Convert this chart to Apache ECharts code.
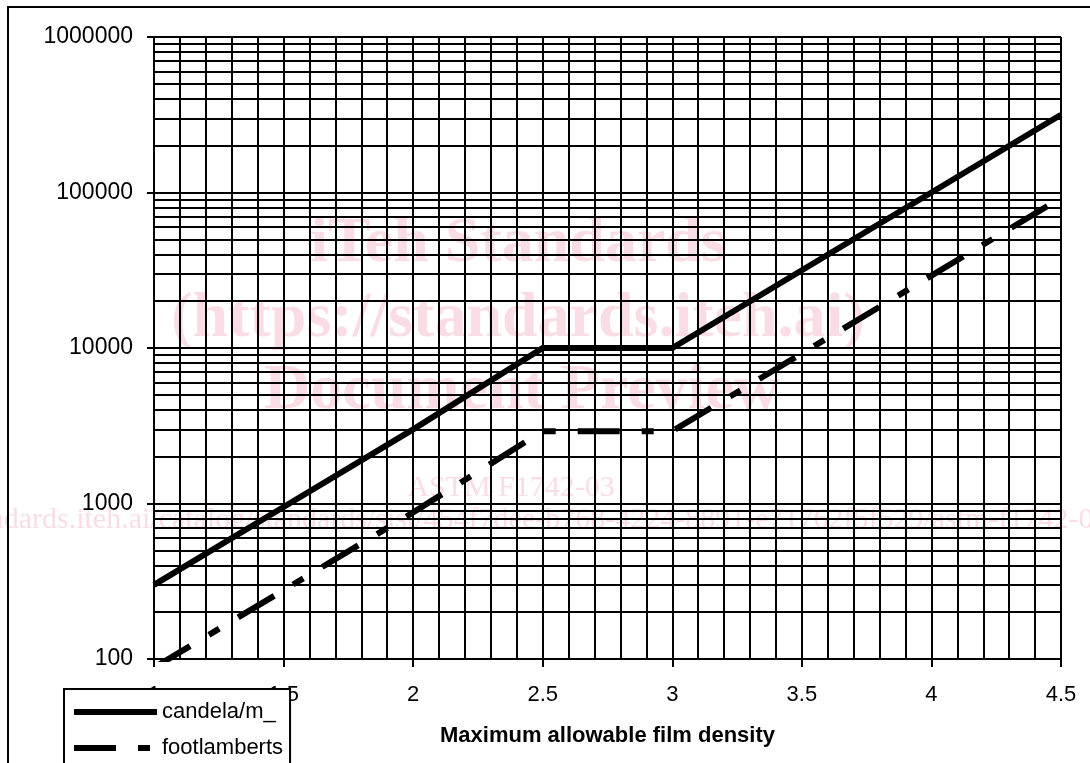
<!DOCTYPE html>
<html><head><meta charset="utf-8">
<script src="https://cdn.jsdelivr.net/npm/echarts@6/dist/echarts.min.js"></script>
<style>html,body{margin:0;padding:0;background:#fff}#c{width:1090px;height:763px}</style>
</head><body><div id="c"></div>
<script>
// ---- data ----
const density = [1, 1.5, 2, 2.5, 3, 3.5, 4, 4.5];
const candela = [300, 950, 3000, 10000, 10000, 31600, 100000, 316000];
const footlamberts = [88, 277, 876, 2920, 2920, 9220, 29200, 92200];
const seriesNames = ['candela/m_', 'footlamberts'];
const xAxisName = 'Maximum allowable film density';
const yDecades = [100, 1000, 10000, 100000];
const yMinorSteps = [2, 3, 4, 5, 6, 7, 8, 9];
const watermark = ['iTeh Standards', '(https://standards.iteh.ai)', 'Document Preview'];
const watermarkCode = 'ASTM F1742-03';
const watermarkUrl = 'https://standards.iteh.ai/catalog/standards/sist/454f7dee-b768-4224-8891-e71762f5f529/astm-f1742-03';

const FONT = 'Liberation Sans, Arial, sans-serif';
const SERIF = 'Liberation Serif, Times New Roman, serif';
const PINK = 'rgba(225,60,110,0.18)';

const minorLines = [];
yDecades.forEach(d => yMinorSteps.forEach(m => minorLines.push({ yAxis: d * m })));

const chart = echarts.init(document.getElementById('c'), null, { renderer: 'canvas' });
chart.setOption({
  backgroundColor: '#fff',
  animation: false,
  textStyle: { fontFamily: FONT },
  grid: { left: 154, right: 29, top: 37, bottom: 104, containLabel: false },
  graphic: [
    { type: 'rect', z: 100, silent: true, shape: { x: 8, y: 7, width: 1200, height: 900 },
      style: { fill: 'none', stroke: '#000', lineWidth: 2 } },
    { type: 'text', z: -1, x: 518, y: 244, style: { text: watermark[0], font: 'bold 64px ' + SERIF, fill: PINK, align: 'center', verticalAlign: 'middle' } },
    { type: 'text', z: -1, x: 518, y: 319, style: { text: watermark[1], font: 'bold 64px ' + SERIF, fill: PINK, align: 'center', verticalAlign: 'middle' } },
    { type: 'text', z: -1, x: 522, y: 391, style: { text: watermark[2], font: 'bold 64px ' + SERIF, fill: PINK, align: 'center', verticalAlign: 'middle' } },
    { type: 'text', z: -1, x: 511, y: 488, style: { text: watermarkCode, font: '30px ' + SERIF, fill: PINK, align: 'center', verticalAlign: 'middle' } },
    { type: 'text', z: -1, x: -128, y: 520, style: { text: watermarkUrl, font: '30px ' + SERIF, fill: PINK, align: 'left', verticalAlign: 'middle' } }
  ],
  legend: {
    show: true,
    orient: 'vertical',
    left: 64, top: 689, height: 140,
    padding: [12, 7, 24, 7],
    itemWidth: 83, itemHeight: 14, itemGap: 14,
    backgroundColor: '#fff',
    borderColor: '#000', borderWidth: 2, borderRadius: 0,
    z: 10,
    itemStyle: { color: 'rgba(0,0,0,0)', borderWidth: 0, opacity: 0 },
    lineStyle: { width: 6, color: '#000' },
    textStyle: { fontFamily: FONT, fontSize: 22, color: '#000' },
    data: seriesNames
  },
  xAxis: {
    type: 'value', min: 1, max: 4.5, interval: 0.5,
    name: xAxisName, nameLocation: 'middle', nameGap: 66,
    nameTextStyle: { fontFamily: FONT, fontSize: 22, fontWeight: 'bold', color: '#000' },
    axisLine: { show: true, onZero: false, lineStyle: { color: '#000', width: 2 } },
    axisTick: { show: true, inside: false, length: 8, lineStyle: { color: '#000', width: 2 } },
    axisLabel: { show: true, fontFamily: FONT, fontSize: 22, color: '#000', margin: 25,
      formatter: v => String(Math.round(v * 10) / 10) },
    splitLine: { show: true, showMinLine: true, showMaxLine: true, lineStyle: { color: '#000', width: 2 } },
    minorTick: { show: false, splitNumber: 5 },
    minorSplitLine: { show: true, lineStyle: { color: '#000', width: 2 } }
  },
  yAxis: {
    type: 'log', logBase: 10, min: 100, max: 1000000, interval: 1,
    axisLine: { show: true, onZero: false, lineStyle: { color: '#000', width: 2 } },
    axisTick: { show: true, inside: false, length: 7, lineStyle: { color: '#000', width: 2 } },
    axisLabel: { show: true, fontFamily: FONT, fontSize: 23, color: '#000', margin: 21,
      formatter: v => String(Math.round(v)) },
    splitLine: { show: true, showMinLine: true, showMaxLine: true, lineStyle: { color: '#000', width: 2 } },
    minorSplitLine: { show: false }
  },
  series: [
    {
      name: '__grid', type: 'line', data: [], z: 1, silent: true,
      markLine: { silent: true, symbol: 'none', animation: false, label: { show: false },
        lineStyle: { color: '#000', width: 2, type: 'solid' }, data: minorLines }
    },
    {
      name: seriesNames[0], type: 'line', z: 5, symbol: 'none', showSymbol: false,
      data: density.map((d, i) => [d, candela[i]]),
      itemStyle: { color: '#000' },
      lineStyle: { color: '#000', width: 6, type: 'solid', cap: 'butt', join: 'miter' }
    },
    {
      name: seriesNames[1], type: 'line', z: 5, symbol: 'none', showSymbol: false,
      data: density.map((d, i) => [d, footlamberts[i]]),
      itemStyle: { color: '#000' },
      lineStyle: { color: '#000', width: 6, type: [42, 22, 12, 22], cap: 'butt', join: 'miter' }
    }
  ]
});
</script></body></html>
